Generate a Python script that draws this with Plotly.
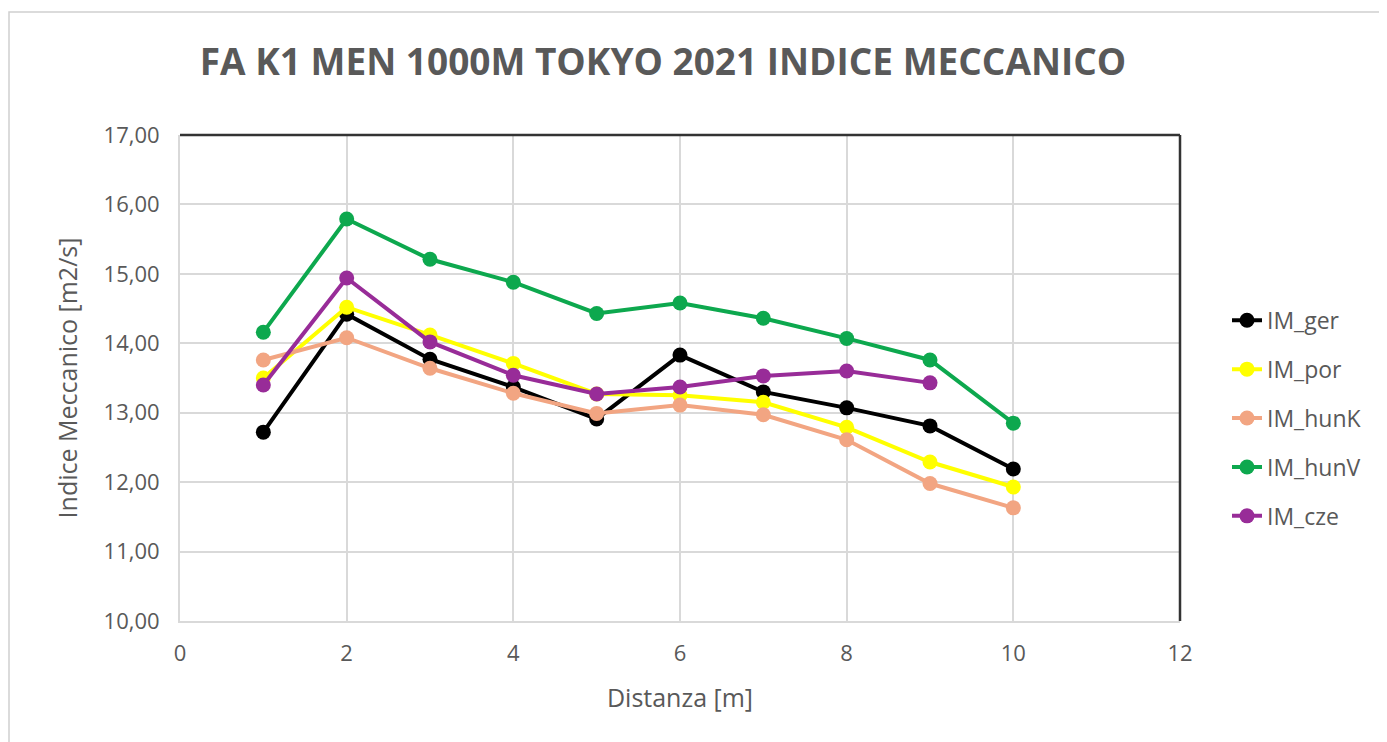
import plotly.graph_objects as go

distanza = [1, 2, 3, 4, 5, 6, 7, 8, 9, 10]
im_ger = [12.72, 14.42, 13.77, 13.37, 12.91, 13.83, 13.30, 13.07, 12.81, 12.19]
im_por = [13.50, 14.52, 14.12, 13.71, 13.27, 13.25, 13.15, 12.79, 12.29, 11.93]
im_hunK = [13.76, 14.08, 13.64, 13.28, 12.99, 13.11, 12.97, 12.61, 11.98, 11.63]
im_hunV = [14.16, 15.79, 15.21, 14.88, 14.43, 14.58, 14.36, 14.07, 13.76, 12.85]
im_cze = [13.40, 14.94, 14.02, 13.54, 13.27, 13.37, 13.53, 13.60, 13.43]

series = [
    ("IM_ger", im_ger, "#000000"),
    ("IM_por", im_por, "#FFFF00"),
    ("IM_hunK", im_hunK, "#F2A582"),
    ("IM_hunV", im_hunV, "#0DA84E"),
    ("IM_cze", im_cze, "#982C98"),
]

fig = go.Figure()
for name, vals, col in series:
    fig.add_trace(go.Scatter(
        x=distanza[:len(vals)], y=vals, name=name, mode="lines+markers",
        line=dict(color=col, width=4),
        marker=dict(color=col, size=15),
        legendgroup=name,
    ))

grid = "#d9d9d9"
txt = "#595959"
font_family = "Open Sans"

fig.update_layout(
    width=1379, height=734,
    margin=dict(l=172, r=207, t=127, b=121),
    paper_bgcolor="white", plot_bgcolor="white",
    separators=", ",
    font=dict(family=font_family, color=txt, size=20),
    title=dict(text="<b>FA K1 MEN 1000M TOKYO 2021 INDICE MECCANICO</b>",
               x=0.475, xanchor="center", y=0.926, yanchor="middle",
               font=dict(size=37, color=txt, family=font_family)),
    xaxis=dict(range=[0, 12], dtick=2, tick0=0, showgrid=True, gridcolor=grid, gridwidth=1.5,
               showline=True, linecolor=grid, linewidth=2, zeroline=False,
               ticks="", tickfont=dict(size=22, color=txt), ticklabelstandoff=12,
               title=dict(text="Distanza [m]", font=dict(size=25, color=txt), standoff=23)),
    yaxis=dict(range=[10, 17], dtick=1, tickformat=".2f", showgrid=True, gridcolor=grid, gridwidth=1.5,
               showline=True, linecolor=grid, linewidth=2, zeroline=False,
               ticks="", tickfont=dict(size=22, color=txt), ticklabelstandoff=14,
               title=dict(text="Indice Meccanico [m2/s]", font=dict(size=25, color=txt), standoff=19)),
    legend=dict(x=1.047, y=0.663, xanchor="left", yanchor="top",
                font=dict(size=23, color=txt), tracegroupgap=16,
                bgcolor="rgba(0,0,0,0)"),
    showlegend=True,
)

# dark top and right frame of the plot area
fig.add_shape(type="line", xref="x domain", yref="y domain", x0=0, x1=1, y0=1, y1=1,
              line=dict(color="#333333", width=2.5))
fig.add_shape(type="line", xref="x domain", yref="y domain", x0=1, x1=1, y0=0, y1=1,
              line=dict(color="#333333", width=2.5))
# outer chart-area border
fig.add_shape(type="rect", xref="paper", yref="paper", x0=-0.171, x1=1.25, y0=-0.3, y1=1.253,
              line=dict(color="#d0d0d0", width=1.5), layer="below")

fig.write_html("out.html")
